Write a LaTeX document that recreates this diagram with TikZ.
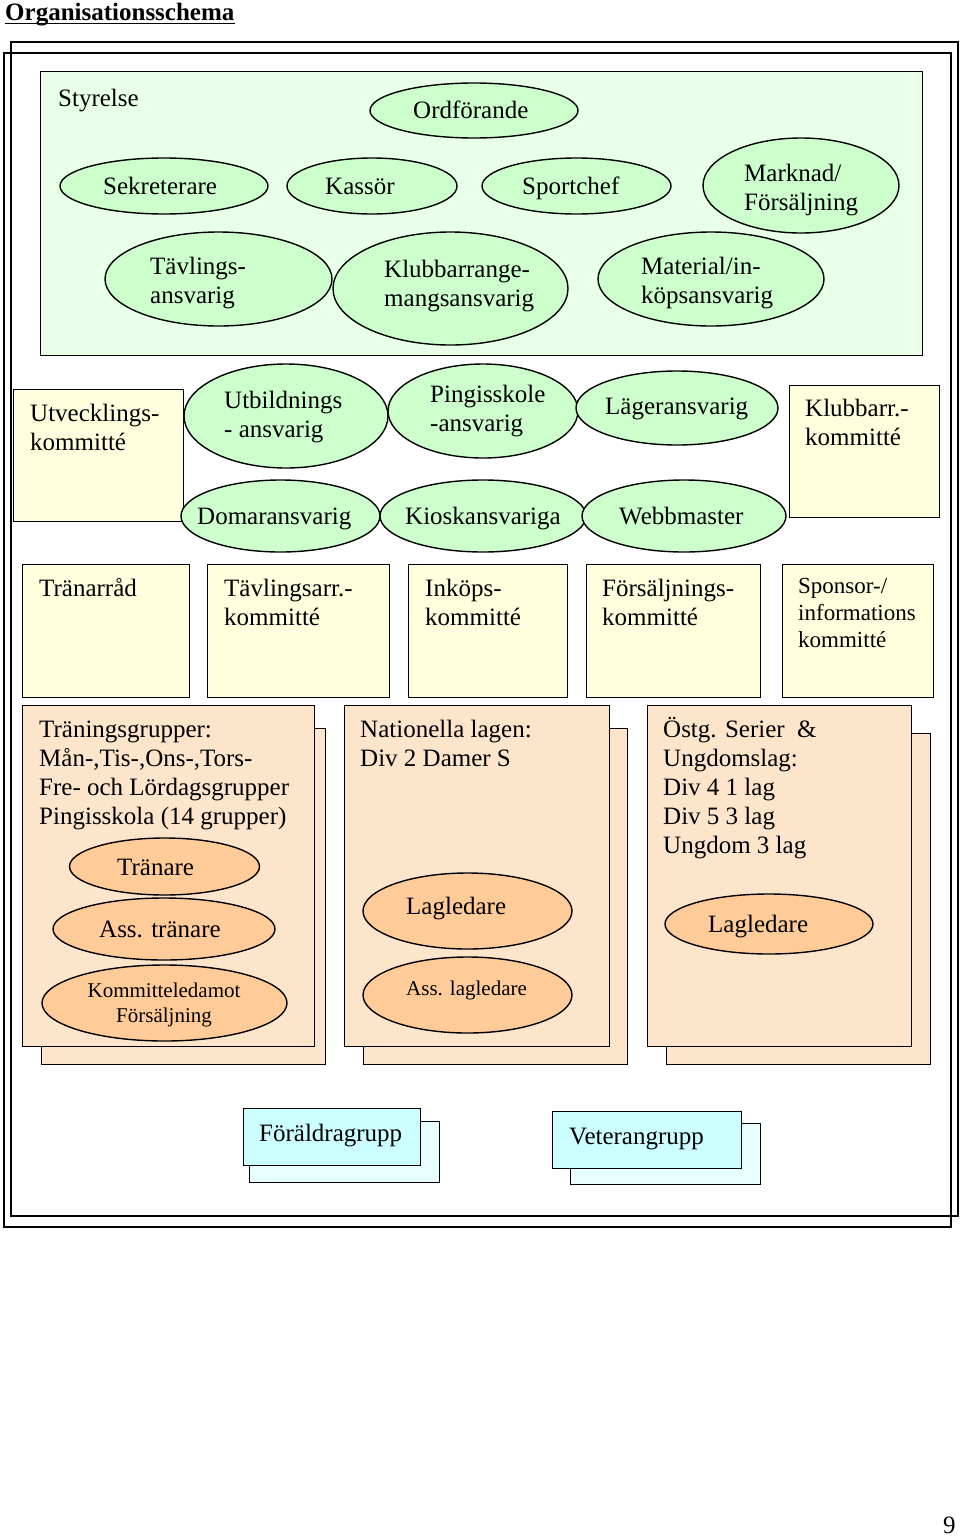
\documentclass[tikz,border=0pt]{standalone}
\usepackage{fontspec}
\setmainfont{Liberation Serif}
\usetikzlibrary{shapes.geometric}
\newcommand{\fsA}{\fontsize{25}{29}\selectfont}
\newcommand{\fsB}{\fontsize{23}{27}\selectfont}
\newcommand{\fsC}{\fontsize{21}{25}\selectfont}
\definecolor{boardbg}{HTML}{E8FFE8}
\definecolor{ellgreen}{HTML}{CCFFCC}
\definecolor{cream}{HTML}{FFFFDD}
\definecolor{peach}{HTML}{FDE5CC}
\definecolor{ellorange}{HTML}{FFCC99}
\definecolor{cyanfront}{HTML}{CCFFFF}
\definecolor{cyanback}{HTML}{E8FFFF}
\begin{document}
\begin{tikzpicture}[x=1pt,y=-1pt,
  frame/.style={draw=black, line width=1.6pt, anchor=north west, inner sep=0pt},
  rbox/.style={draw=black, line width=1.4pt, anchor=north west, inner sep=0pt},
  gell/.style={ellipse, draw=black, line width=1.4pt, fill=ellgreen, inner sep=0pt},
  oell/.style={ellipse, draw=black, line width=1.4pt, fill=ellorange, inner sep=0pt},
  tx/.style={anchor=north west, inner sep=0pt, align=left, font=\fsA, yshift=20.3pt},
  txB/.style={anchor=north west, inner sep=0pt, align=left, font=\fsB, yshift=18.9pt},
  txC/.style={anchor=north, inner sep=0pt, align=center, font=\fsC, yshift=17.5pt},
  t1/.style={anchor=base west, inner sep=0pt, font=\fsA},
  t1C/.style={anchor=base west, inner sep=0pt, font=\fsC},
]
\useasboundingbox (0,0) rectangle (960,1537);

% title
\node[anchor=base west, inner sep=0pt, font=\fontsize{25}{29}\selectfont\bfseries] (title) at (5,20) {Organisationsschema};
\draw[line width=1.8pt] ([yshift=-3.5pt]title.base west) -- ([yshift=-3.5pt]title.base east);

% outer frames
\node[frame, minimum width=947pt, minimum height=1174pt] (frameA) at (10,41) {};
\node[frame, minimum width=947pt, minimum height=1174pt] (frameB) at (3,52) {};

% Styrelse
\node[rbox, fill=boardbg, minimum width=882pt, minimum height=284pt] (styrelse) at (40,71) {};
\node[t1] (tstyr) at (58,106) {Styrelse};

\node[gell, minimum width=208pt, minimum height=55pt] (ordf) at (474,110.5) {};
\node[t1] (tordf) at (413,118) {Ordförande};
\node[gell, minimum width=208pt, minimum height=56pt] (sekr) at (164,186) {};
\node[t1] (tsekr) at (103,194) {Sekreterare};
\node[gell, minimum width=170pt, minimum height=56pt] (kass) at (372,186) {};
\node[t1] (tkass) at (325,194) {Kassör};
\node[gell, minimum width=189pt, minimum height=56pt] (sport) at (576.5,186) {};
\node[t1] (tsport) at (522,194) {Sportchef};
\node[gell, minimum width=196pt, minimum height=95pt] (markn) at (801,185.5) {};
\node[tx] (tmarkn) at (744,181) {\strut Marknad/\\Försäljning};
\node[gell, minimum width=227pt, minimum height=94pt] (tavl) at (218.5,279) {};
\node[tx] (ttavl) at (150,274) {\strut Tävlings-\\ansvarig};
\node[gell, minimum width=235pt, minimum height=113pt] (klubb) at (450.5,288.5) {};
\node[tx] (tklubb) at (384,277) {\strut Klubbarrange-\\mangsansvarig};
\node[gell, minimum width=226pt, minimum height=94pt] (mater) at (711,279) {};
\node[tx] (tmater) at (641,274) {\strut Material/in-\\köpsansvarig};

% row 2
\node[rbox, fill=cream, minimum width=170pt, minimum height=132pt] (utv) at (13,389) {};
\node[tx] (tutv) at (30,421) {\strut Utvecklings-\\kommitté};
\node[rbox, fill=cream, minimum width=150pt, minimum height=132pt] (klubbk) at (789,385) {};
\node[tx] (tklubbk) at (805,416) {\strut Klubbarr.-\\kommitté};

\node[gell, minimum width=204pt, minimum height=104pt] (utb) at (286,416) {};
\node[tx] (tutb) at (224,408) {\strut Utbildnings\\- ansvarig};
\node[gell, minimum width=190pt, minimum height=94pt] (ping) at (483,411) {};
\node[tx] (tping) at (430,402) {\strut Pingisskole\\-ansvarig};
\node[gell, minimum width=202pt, minimum height=74pt] (lager) at (677,408) {};
\node[t1] (tlager) at (605,414) {Lägeransvarig};

\node[gell, minimum width=199pt, minimum height=72pt] (domar) at (280.5,516) {};
\node[t1] (tdomar) at (197,524) {Domaransvarig};
\node[gell, minimum width=206pt, minimum height=72pt] (kiosk) at (483,516) {};
\node[t1] (tkiosk) at (405,524) {Kioskansvariga};
\node[gell, minimum width=204pt, minimum height=72pt] (webb) at (684,516) {};
\node[t1] (twebb) at (619,524) {Webbmaster};

% row 3
\node[rbox, fill=cream, minimum width=167pt, minimum height=133pt] (tranarrad) at (22,564) {};
\node[t1] (ttranarrad) at (39,596) {Tränarråd};
\node[rbox, fill=cream, minimum width=182pt, minimum height=133pt] (tavlk) at (207,564) {};
\node[tx] (ttavlk) at (224,596) {\strut Tävlingsarr.-\\kommitté};
\node[rbox, fill=cream, minimum width=159pt, minimum height=133pt] (inkop) at (408,564) {};
\node[tx] (tinkop) at (425,596) {\strut Inköps-\\kommitté};
\node[rbox, fill=cream, minimum width=174pt, minimum height=133pt] (fors) at (586,564) {};
\node[tx] (tfors) at (602,596) {\strut Försäljnings-\\kommitté};
\node[rbox, fill=cream, minimum width=151pt, minimum height=133pt] (spons) at (782,564) {};
\node[txB] (tspons) at (798,593) {\strut Sponsor-/\\informations\\kommitté};

% row 4 groups
\node[rbox, fill=peach, minimum width=284pt, minimum height=336pt] (g1back) at (41,728) {};
\node[rbox, fill=peach, minimum width=292pt, minimum height=341pt] (g1) at (22,705) {};
\node[tx] (tg1) at (39,737) {\strut Träningsgrupper:\\Mån-,Tis-,Ons-,Tors-\\Fre- och Lördagsgrupper\\Pingisskola (14 grupper)};
\node[oell, minimum width=190pt, minimum height=57pt] (tranare) at (164.5,866.5) {};
\node[t1] (ttranare) at (117,875) {Tränare};
\node[oell, minimum width=222pt, minimum height=62pt] (asstr) at (164,929) {};
\node[t1] (tasstr) at (99,937) {Ass. tränare};
\node[oell, minimum width=245pt, minimum height=76pt] (kommled) at (164.5,1003) {};
\node[txC] (tkommled) at (164,997) {\strut Kommitteledamot\\Försäljning};

\node[rbox, fill=peach, minimum width=264pt, minimum height=336pt] (g2back) at (363,728) {};
\node[rbox, fill=peach, minimum width=265pt, minimum height=341pt] (g2) at (344,705) {};
\node[tx] (tg2) at (360,737) {\strut Nationella lagen:\\Div 2 Damer S};
\node[oell, minimum width=209pt, minimum height=76pt] (lagl2) at (467.5,911) {};
\node[t1] (tlagl2) at (406,914) {Lagledare};
\node[oell, minimum width=209pt, minimum height=76pt] (asslagl) at (467.5,995) {};
\node[t1C] (tasslagl) at (406,995) {Ass. lagledare};

\node[rbox, fill=peach, minimum width=264pt, minimum height=331pt] (g3back) at (666,733) {};
\node[rbox, fill=peach, minimum width=264pt, minimum height=341pt] (g3) at (647,705) {};
\node[tx] (tg3) at (663,737) {\strut Östg. Serier\ \ \&\\Ungdomslag:\\Div 4 1 lag\\Div 5 3 lag\\Ungdom 3 lag};
\node[oell, minimum width=208pt, minimum height=60pt] (lagl3) at (769,924) {};
\node[t1] (tlagl3) at (708,932) {Lagledare};

% bottom groups
\node[rbox, fill=cyanback, minimum width=190pt, minimum height=61pt] (foraldback) at (249,1121) {};
\node[rbox, fill=cyanfront, minimum width=177pt, minimum height=57pt] (forald) at (243,1108) {};
\node[t1] (tforald) at (259,1141) {Föräldragrupp};
\node[rbox, fill=cyanback, minimum width=190pt, minimum height=61pt] (vetback) at (570,1123) {};
\node[rbox, fill=cyanfront, minimum width=189pt, minimum height=57pt] (vet) at (552,1111) {};
\node[t1] (tvet) at (569,1144) {Veterangrupp};

% page number
\node[t1] (pagenum) at (943,1533) {9};
\end{tikzpicture}
\end{document}
